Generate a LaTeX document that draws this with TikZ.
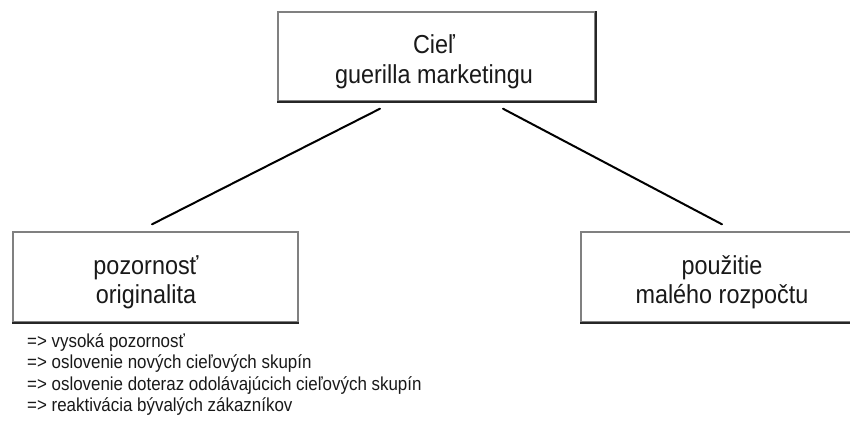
\documentclass[tikz,border=0pt]{standalone}
\usepackage{fontspec}
\setmainfont{Liberation Sans}[FakeStretch=0.9]
\usetikzlibrary{calc}
\tikzset{
  goalbox/.style={draw=black!50, line width=1.4pt, fill=white, inner sep=0pt},
  boxedge/.style={draw=black!85, line width=1.8pt},
  boxtext/.style={align=center, inner sep=0pt, text=black!90},
  bigtext/.style={boxtext, font=\fontsize{26}{30}\selectfont},
  midtext/.style={boxtext, font=\fontsize{26}{28.5}\selectfont},
  link/.style={draw=black, line width=2pt, line cap=round},
  effect/.style={anchor=base west, inner sep=0pt, text=black!90, font=\fontsize{18.8}{21.5}\selectfont}
}
\begin{document}
\begin{tikzpicture}[x=1pt,y=-1pt]
\useasboundingbox (0,0) rectangle (850,421);
\clip (0,0) rectangle (850,421);
\fill[white] (0,0) rectangle (850,421);

% boxes
\node[goalbox, minimum width=317pt, minimum height=89pt] (goal) at (436.5,56.5) {};
\node[goalbox, minimum width=285pt, minimum height=90pt] (att) at (155.5,277) {};
\node[goalbox, minimum width=282pt, minimum height=90pt] (budget) at (722,277) {};
\draw[boxedge] (goal.south west) -- (goal.south east) -- (goal.north east);
\draw[boxedge] (att.south west) -- (att.south east);
\draw[boxedge] (budget.south west) -- (budget.south east);

% box texts
\node[bigtext] (goaltext) at (434,61.3) {Cieľ\\guerilla marketingu};
\node[midtext] (atttext) at (146,282.3) {pozornosť\\originalita};
\node[midtext] (budgettext) at (722,282.3) {použitie\\malého rozpočtu};

% connectors
\coordinate (gl) at ($(goal.south)+(-56.5,7)$);
\coordinate (gr) at ($(goal.south)+(66.5,7)$);
\coordinate (al) at ($(att.north)+(-3.5,-7)$);
\coordinate (br) at ($(budget.north)+(0,-7)$);
\draw[link] (gl) -- (al);
\draw[link] (gr) -- (br);

% consequences
\node[effect] (e1) at (27,347) {=> vysoká pozornosť};
\node[effect] (e2) at (27,368.5) {=> oslovenie nových cieľových skupín};
\node[effect] (e3) at (27,390) {=> oslovenie doteraz odolávajúcich cieľových skupín};
\node[effect] (e4) at (27,411.5) {=> reaktivácia bývalých zákazníkov};
\end{tikzpicture}
\end{document}
